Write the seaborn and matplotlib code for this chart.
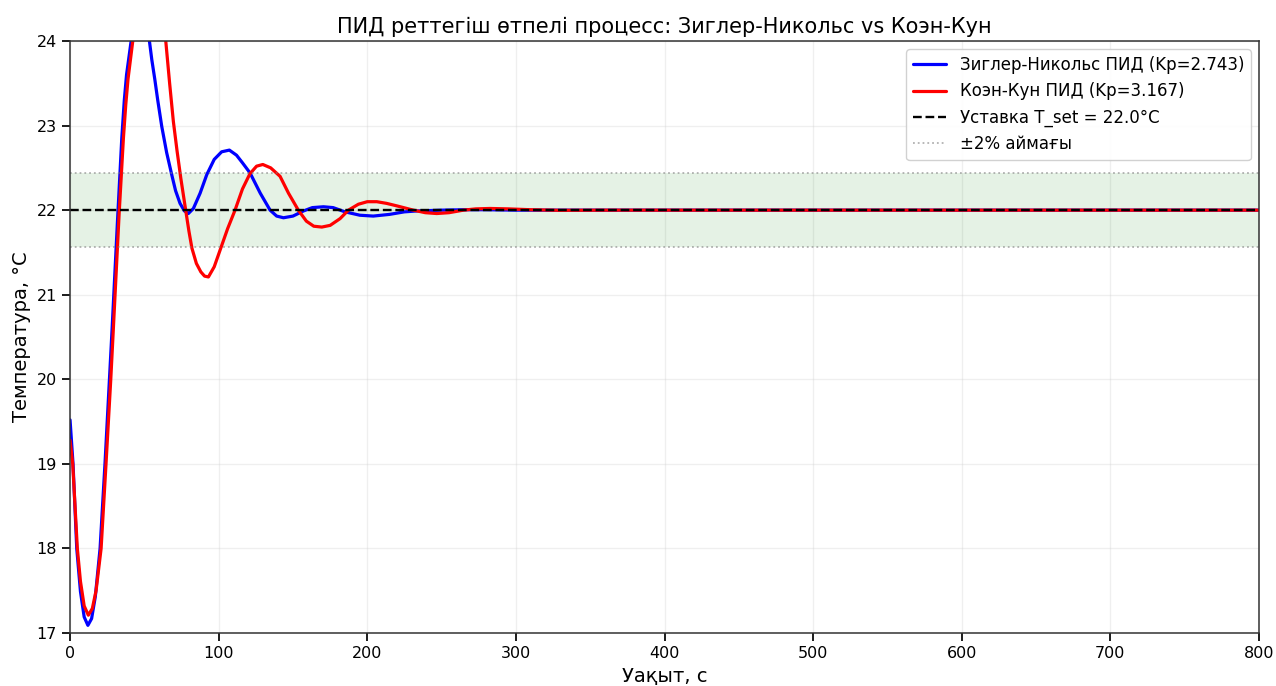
import matplotlib
matplotlib.use("Agg")
import matplotlib.pyplot as plt
import seaborn as sns
import numpy as np

# --- data ---
t_zn = [0, 2, 4.5, 7, 9.5, 12, 14.5, 17, 20.2, 23.5, 26.5, 28.3, 30, 32, 34.8, 36.5, 38, 41.1,
        44, 47, 50, 53.4, 55, 57, 59, 61.7, 65, 68.4, 71, 74, 77, 79.6, 83, 87.5, 92, 97, 102,
        107.2, 112, 116, 121.1, 128, 134.6, 139, 143.6, 150, 157, 163, 170.5, 177, 185,
        195, 204, 215, 225, 233, 250, 265, 280, 300, 350, 400, 500, 600, 700, 800]
T_zn = [19.52, 19.0, 18.0, 17.49, 17.19, 17.09, 17.17, 17.43, 18.0, 19.0, 20.0, 20.6,
        21.2, 21.9, 22.85, 23.3, 23.6, 24.0, 24.3, 24.45, 24.35, 24.0, 23.78, 23.55, 23.3,
        22.99, 22.68, 22.42, 22.23, 22.08, 21.99, 21.96, 22.02, 22.2, 22.42, 22.6, 22.69,
        22.71, 22.65, 22.56, 22.44, 22.2, 22.0, 21.93, 21.91, 21.93, 21.99, 22.03, 22.04,
        22.03, 21.98, 21.94, 21.93, 21.95, 21.98, 21.99, 22.0, 22.005, 22.005, 22.0, 22.0,
        22.0, 22.0, 22.0, 22.0, 22.0]

t_cc = [0, 1.8, 4.9, 7, 9.5, 12.3, 15, 17.5, 20.9, 24.2, 27.4, 29, 31, 33, 35.9, 37.5, 39,
        42.2, 45, 49, 53, 57, 61, 64.4, 67, 69.5, 72, 74.5, 77.8, 80, 82, 85, 88, 90.5,
        93.1, 97, 101, 106, 111, 116, 121, 125.5, 129.7, 135, 141.3, 147, 153.6, 159, 164,
        169.4, 175, 181.7, 187.3, 194, 200, 206.4, 213, 220, 231, 239, 246.7, 255, 264.7,
        273, 282.6, 295, 310, 330, 360, 400, 500, 600, 700, 800]
T_cc = [19.28, 19.0, 18.0, 17.61, 17.32, 17.21, 17.29, 17.5, 18.0, 19.0, 20.0, 20.55,
        21.25, 21.95, 22.85, 23.25, 23.55, 24.0, 24.4, 24.8, 25.0, 24.9, 24.55, 24.0, 23.5,
        23.05, 22.7, 22.38, 22.0, 21.75, 21.55, 21.37, 21.27, 21.22, 21.21, 21.33, 21.53,
        21.78, 22.0, 22.25, 22.43, 22.52, 22.54, 22.5, 22.4, 22.2, 22.0, 21.87, 21.81,
        21.8, 21.82, 21.9, 22.0, 22.07, 22.1, 22.1, 22.08, 22.05, 22.0, 21.97, 21.96, 21.97,
        22.0, 22.015, 22.02, 22.015, 22.005, 21.998, 22.0, 22.0, 22.0, 22.0, 22.0, 22.0]

T_set = 22.0
band_pct = 0.02
labels = ["Зиглер-Никольс ПИД (Kp=2.743)", "Коэн-Кун ПИД (Kp=3.167)",
          "Уставка T_set = 22.0°C", "±2% аймағы"]
title = "ПИД реттегіш өтпелі процесс: Зиглер-Никольс vs Коэн-Кун"
xlabel = "Уақыт, с"
ylabel = "Температура, °C"

sns.set_theme(style="ticks")
plt.rcParams['font.family'] = ['DejaVu Sans']
plt.rcParams['text.color'] = 'black'
plt.rcParams['axes.labelcolor'] = 'black'

fig = plt.figure(figsize=(12.76, 6.86), dpi=100)
ax = fig.add_axes([0.0549, 0.0773, 0.9318, 0.8629])

lo, hi = T_set * (1 - band_pct), T_set * (1 + band_pct)
ax.axhspan(lo, hi, color="green", alpha=0.1, lw=0)

sns.lineplot(x=t_zn, y=T_zn, ax=ax, color="blue", lw=2.3, label=labels[0], sort=False)
sns.lineplot(x=t_cc, y=T_cc, ax=ax, color="red", lw=2.3, label=labels[1], sort=False)
ax.axhline(T_set, color="black", ls="--", lw=1.7, label=labels[2])
ax.axhline(hi, color="gray", ls=":", lw=1.3, alpha=0.6, label=labels[3])
ax.axhline(lo, color="gray", ls=":", lw=1.3, alpha=0.6)

ax.set_xlim(0, 800)
ax.set_ylim(17, 24)
ax.set_xticks(np.arange(0, 801, 100))
ax.set_yticks(np.arange(17, 25, 1))
ax.grid(True, alpha=0.3)
ax.tick_params(labelsize=11.5, colors="black")
for s in ax.spines.values():
    s.set_color("#333333")
    s.set_linewidth(1.1)

ax.set_title(title, fontsize=15, color="black")
ax.set_xlabel(xlabel, fontsize=14)
ax.set_ylabel(ylabel, fontsize=14)
ax.legend(loc="upper right", fontsize=12, frameon=True, framealpha=0.9)

fig.savefig("out.png", dpi=100)
